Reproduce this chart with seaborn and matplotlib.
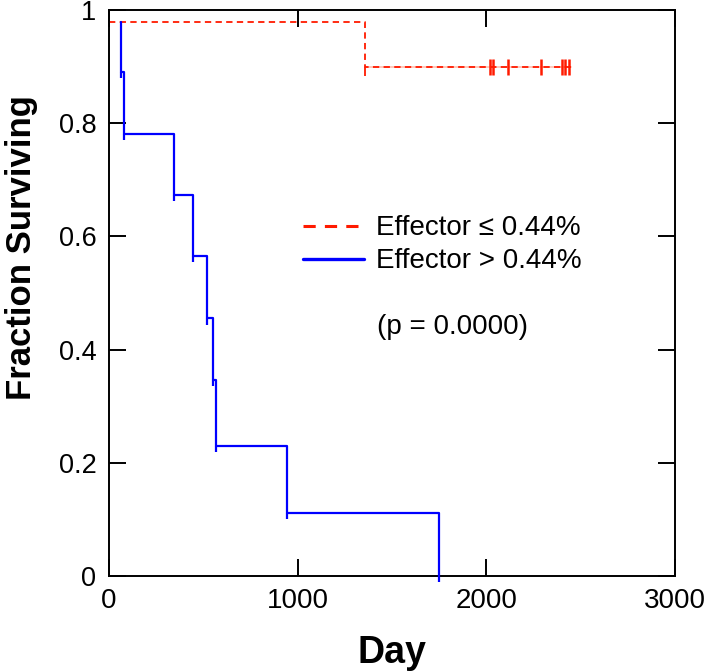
import numpy as np
import pandas as pd
import matplotlib
matplotlib.use('Agg')
import matplotlib.pyplot as plt
from matplotlib.lines import Line2D
import seaborn as sns

# dados (curvas de Kaplan-Meier)

# grupo Effector <= 0.44%
low_start_day = 0
low_start_surv = 0.978
low_event_days = [1357]
low_event_surv = [0.900]
low_censor_days = [2019, 2034, 2113, 2290, 2399, 2417, 2440]
low_end_day = 2447

# grupo Effector > 0.44%
high_start_day = 64
high_start_surv = 0.978
high_event_days = [64, 81, 345, 444, 518, 553, 567, 942, 1751]
high_event_surv = [0.891, 0.781, 0.674, 0.565, 0.455, 0.346, 0.230, 0.111, 0.0]
high_end_day = 1751

labels = ['Effector \u2264 0.44%', 'Effector > 0.44%']
p_text = '(p = 0.0000)'
x_ticks = [0, 1000, 2000, 3000]
y_ticks = [0, 0.2, 0.4, 0.6, 0.8, 1]
y_tick_labels = ['0', '0.2', '0.4', '0.6', '0.8', '1']

red = '#ff1a00'
blue = '#0000ff'


def km_frame(start_day, start_surv, days, surv, end_day):
    # pontos para desenhar em degraus (steps-post)
    x = [start_day] + list(days) + [end_day]
    y = [start_surv] + list(surv) + [surv[-1]]
    return pd.DataFrame({'day': x, 'surv': y})


low_df = km_frame(low_start_day, low_start_surv, low_event_days, low_event_surv, low_end_day)
high_df = km_frame(high_start_day, high_start_surv, high_event_days, high_event_surv, high_end_day)

sns.set_theme(style='ticks', rc={'text.color': 'black', 'axes.labelcolor': 'black',
                                 'xtick.color': 'black', 'ytick.color': 'black',
                                 'axes.edgecolor': 'black'})
plt.rcParams['font.family'] = ['Liberation Sans', 'DejaVu Sans']

fig = plt.figure(figsize=(7.08, 6.72), dpi=100)
ax = fig.add_axes([109 / 708, 96 / 672, 566 / 708, 566 / 672])

# linha clara por baixo do plato vermelho
plateau = low_df[low_df['day'] >= low_event_days[-1]]
ax.plot(plateau['day'], plateau['surv'], color='#ffc4b4', lw=1.3, zorder=1)

# curvas
sns.lineplot(data=low_df, x='day', y='surv', ax=ax, color=red, lw=1.3,
             linestyle=(0, (3.5, 2.4)), drawstyle='steps-post',
             estimator=None, sort=False, zorder=2)
sns.lineplot(data=high_df, x='day', y='surv', ax=ax, color=blue, lw=1.6,
             drawstyle='steps-post', estimator=None, sort=False, zorder=3)

# pequenos prolongamentos abaixo de cada queda
ax.vlines(high_event_days, np.array(high_event_surv) - 0.011, high_event_surv,
          color=blue, lw=1.6, clip_on=False, zorder=3)
ax.vlines(low_event_days, np.array(low_event_surv) - 0.016, low_event_surv,
          color=red, lw=1.3, clip_on=False, zorder=2)

# marcas de censura
sns.scatterplot(x=low_censor_days, y=[low_event_surv[-1]] * len(low_censor_days),
                ax=ax, marker='|', s=120, color=red, linewidth=1.8, zorder=4)

# eixos
ax.set_xlim(0, 3000)
ax.set_ylim(0, 1)
ax.set_xticks(x_ticks)
ax.set_xticklabels([str(t) for t in x_ticks])
ax.set_yticks(y_ticks)
ax.set_yticklabels(y_tick_labels)
ax.tick_params(direction='in', length=12, width=1.4, top=True, right=True,
               colors='black', pad=9)
ax.tick_params(axis='x', labelsize=20)
ax.tick_params(axis='y', labelsize=19.5)
for s in ax.spines.values():
    s.set_visible(True)
    s.set_linewidth(1.4)
    s.set_color('black')

ax.set_xlabel('Day', fontsize=27, fontweight='bold', va='top')
ax.xaxis.set_label_coords(0.5, -0.104)
ax.set_ylabel('Fraction Surviving', fontsize=25, fontweight='bold')
ax.yaxis.set_label_coords(-0.125, 0.58)

# legenda
handles = [Line2D([0], [0], color=red, lw=2.2, linestyle=(0, (4, 3))),
           Line2D([0], [0], color=blue, lw=2.4)]
ax.legend(handles, labels, loc='center left', bbox_to_anchor=(0.342, 0.585),
          frameon=False, fontsize=20, handlelength=2.2, handletextpad=0.45,
          labelspacing=0.25, borderpad=0, borderaxespad=0)

ax.text(0.473, 0.4405, p_text, transform=ax.transAxes, fontsize=20,
        va='center', ha='left')

fig.savefig('out.png', dpi=100)
